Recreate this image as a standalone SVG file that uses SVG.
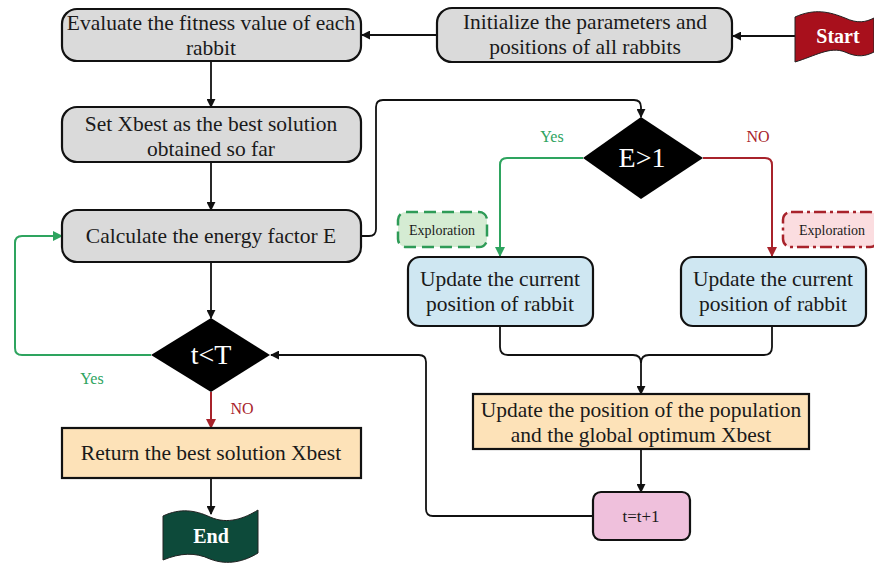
<svg xmlns="http://www.w3.org/2000/svg" width="874" height="566" viewBox="0 0 874 566" font-family="'Liberation Serif', 'Times New Roman', 'DejaVu Serif', serif">
<defs>
<marker id="ab" viewBox="0 0 10 10" refX="9" refY="5" markerWidth="5" markerHeight="5" orient="auto-start-reverse"><path d="M0,0 L10,5 L0,10 z" fill="#111"/></marker>
<marker id="ag" viewBox="0 0 10 10" refX="9" refY="5" markerWidth="5" markerHeight="5" orient="auto-start-reverse"><path d="M0,0 L10,5 L0,10 z" fill="#2ea45f"/></marker>
<marker id="ar" viewBox="0 0 10 10" refX="9" refY="5" markerWidth="5" markerHeight="5" orient="auto-start-reverse"><path d="M0,0 L10,5 L0,10 z" fill="#a8232b"/></marker>
</defs>
<style>
text{font-family:'Liberation Serif','Times New Roman','DejaVu Serif',serif;text-anchor:middle;fill:#1a1a1a}
.t{font-size:21.5px}
.gray{fill:#dadada;stroke:#111;stroke-width:2.2}
.blue{fill:#cfe7f2;stroke:#111;stroke-width:2.2}
.orange{fill:#fde2b8;stroke:#111;stroke-width:2.2}
.pink{fill:#efc0dc;stroke:#111;stroke-width:2.2}
.dia{fill:#000}
.dt{font-size:28px;fill:#fff}
.c{fill:none;stroke:#111;stroke-width:1.8;marker-end:url(#ab)}
.cn{fill:none;stroke:#111;stroke-width:1.8}
.g{fill:none;stroke:#2ea45f;stroke-width:2;marker-end:url(#ag)}
.r{fill:none;stroke:#a8232b;stroke-width:2;marker-end:url(#ar)}
.lg{font-size:16px;fill:#2ea45f}
.lr{font-size:16px;fill:#a8232b}
</style>
<rect width="874" height="566" fill="#fff"/>
<g id="connectors">
<path class="c" d="M795,36 L733,36"/>
<path class="c" d="M437,35 L362,35"/>
<path class="c" d="M211,61 L211,107"/>
<path class="c" d="M211,162 L211,210"/>
<path class="c" d="M361,236 L369,236 Q376,236 376,229 L376,107 Q376,100 383,100 L634,100 Q641,100 641,107 L641,117"/>
<path class="g" d="M583,158 L507,158 Q500,158 500,165 L500,256"/>
<path class="r" d="M703,158 L765,158 Q772,158 772,165 L772,256"/>
<path class="cn" d="M500,326 L500,347 Q500,355 508,355 L633,355 Q641,355 641,363"/>
<path class="cn" d="M772,326 L772,347 Q772,355 764,355 L649,355 Q641,355 641,363"/>
<path class="c" d="M641,362 L641,394"/>
<path class="c" d="M641,449 L641,492"/>
<path class="c" d="M593,516 L433,516 Q426,516 426,509 L426,362 Q426,355 419,355 L271,355"/>
<path class="c" d="M211,262 L211,318"/>
<path class="g" d="M151,355 L22,355 Q15,355 15,348 L15,243 Q15,236 22,236 L62,236"/>
<path class="r" d="M211,392 L211,428"/>
<path class="c" d="M211,478 L211,514"/>
<text class="lg" x="552" y="142">Yes</text>
<text class="lr" x="758" y="142">NO</text>
<text class="lg" x="92" y="384">Yes</text>
<text class="lr" x="242" y="414">NO</text>
</g>
<g id="start">
<path d="M795,17 C815,8 830,12 845,18 C858,24 866,22 874,18 L874,52 C866,56 858,58 845,52 C830,46 815,56 795,62 Z" fill="#a8101c" stroke="#222" stroke-width="1"/>
<text x="838" y="43" style="font-size:20px;font-weight:bold;fill:#fff">Start</text>
</g>
<g id="init">
<rect class="gray" x="437" y="8" width="295" height="54" rx="15"/>
<text class="t" x="585" y="29">Initialize the parameters and</text>
<text class="t" x="585" y="54">positions of all rabbits</text>
</g>
<g id="evaluate">
<rect class="gray" x="62" y="9" width="299" height="52" rx="15"/>
<text class="t" x="211" y="30">Evaluate the fitness value of each</text>
<text class="t" x="211" y="55">rabbit</text>
</g>
<g id="setx">
<rect class="gray" x="62" y="107" width="299" height="55" rx="15"/>
<text class="t" x="211" y="131">Set Xbest as the best solution</text>
<text class="t" x="211" y="156">obtained so far</text>
</g>
<g id="calc">
<rect class="gray" x="62" y="210" width="299" height="52" rx="15"/>
<text class="t" x="211" y="243">Calculate the energy factor E</text>
</g>
<g id="e1">
<polygon class="dia" points="641,117 703,158 641,199 583,158"/>
<text class="dt" x="642" y="167">E&gt;1</text>
</g>
<g id="explore-green">
<rect x="398" y="212" width="89" height="35" rx="8" fill="#d5ecd3" stroke="#2e9b57" stroke-width="2.5" stroke-dasharray="12,6"/>
<text x="442" y="235" style="font-size:14px">Exploration</text>
</g>
<g id="explore-red">
<rect x="783" y="212" width="95" height="35" rx="8" fill="#fbdde0" stroke="#a8232b" stroke-width="2.5" stroke-dasharray="12,4,3,4"/>
<text x="832" y="235" style="font-size:14px">Exploration</text>
</g>
<g id="update-left">
<rect class="blue" x="408" y="257" width="185" height="69" rx="12"/>
<text class="t" x="500" y="286">Update the current</text>
<text class="t" x="500" y="311">position of rabbit</text>
</g>
<g id="update-right">
<rect class="blue" x="681" y="257" width="185" height="69" rx="12"/>
<text class="t" x="773" y="286">Update the current</text>
<text class="t" x="773" y="311">position of rabbit</text>
</g>
<g id="population">
<rect class="orange" x="473" y="394" width="336" height="55"/>
<text class="t" x="641" y="417">Update the position of the population</text>
<text class="t" x="641" y="442">and the global optimum Xbest</text>
</g>
<g id="tinc">
<rect class="pink" x="593" y="492" width="97" height="48" rx="8"/>
<text x="641" y="522" style="font-size:17px">t=t+1</text>
</g>
<g id="tlt">
<polygon class="dia" points="211,318 270,355 211,392 151,355"/>
<text class="dt" x="211" y="364">t&lt;T</text>
</g>
<g id="return">
<rect class="orange" x="62" y="428" width="299" height="50"/>
<text class="t" x="211" y="460">Return the best solution Xbest</text>
</g>
<g id="end">
<path d="M163,516 C180,508 195,510 210,517 C228,525 245,518 258,510 L258,553 C245,561 228,566 210,559 C195,552 180,553 163,560 Z" fill="#0d4a3a" stroke="#222" stroke-width="1"/>
<text x="211" y="543" style="font-size:20px;font-weight:bold;fill:#fff">End</text>
</g>
</svg>
